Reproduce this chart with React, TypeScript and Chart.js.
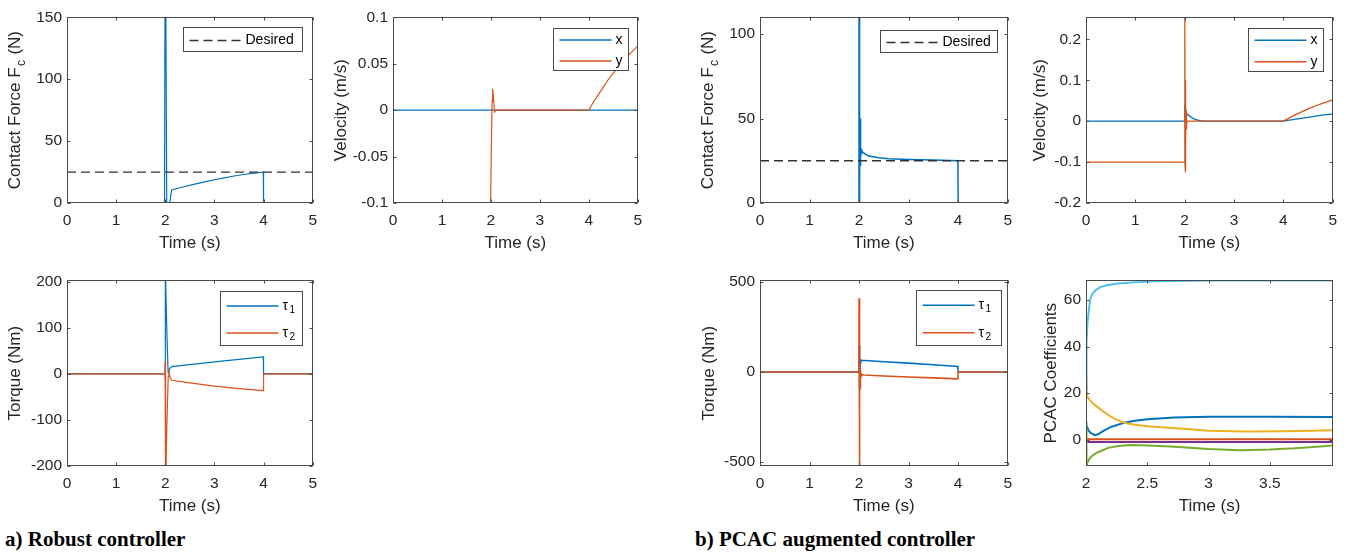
import React, { useEffect, useRef } from 'react';
import { Chart, registerables } from 'chart.js';

Chart.register(...registerables);

// ---------------- data ----------------
const timeTicks = [0, 1, 2, 3, 4, 5];
const coefTimeTicks = [2, 2.5, 3, 3.5];

// a) Robust controller — contact force
const robustForceT = [0, 1.985, 2.0, 2.03, 2.09, 2.13, 2.2, 2.4, 2.6, 2.8, 3.0, 3.2, 3.4, 3.6, 3.8, 3.995, 4.0, 5.0];
const robustForceF = [0, 0, 250, 0, 0, 10.5, 11.3, 13.3, 15.3, 17.1, 18.8, 20.3, 21.8, 23.0, 24.1, 25.0, 0, 0];
const desiredT = [0, 5];
const desiredF = [25, 25];
const robustForceTicks = [0, 50, 100, 150];

// a) Robust controller — velocity
const robustVelXT = [0, 5];
const robustVelX = [0, 0];
const robustVelYT = [0, 1.995, 2.01, 2.025, 2.035, 2.05, 2.075, 2.1, 4.0, 4.1, 4.25, 4.4, 4.56, 4.8, 5.0];
const robustVelY = [-0.1, -0.1, -0.04, 0.01, 0.023, 0.016, -0.002, 0, 0, 0.009, 0.021, 0.033, 0.044, 0.0585, 0.069];
const robustVelTicks = [-0.1, -0.05, 0, 0.05, 0.1];

// a) Robust controller — torque
const robustTau1T = [0, 1.995, 1.998, 2.005, 2.03, 2.058, 2.075, 2.1, 2.13, 2.5, 3.0, 3.5, 3.995, 4.0, 5.0];
const robustTau1 = [0, 0, -12, 230, 100, 2, 8, 13, 15.5, 20, 26, 31.5, 36.5, 0, 0];
const robustTau2T = [0, 1.992, 1.996, 2.0, 2.012, 2.03, 2.06, 2.075, 2.1, 2.13, 2.5, 3.0, 3.5, 3.995, 4.0, 5.0];
const robustTau2 = [0, 0, 27, 0, -260, -120, -5, 3, -8, -14, -19.5, -26.5, -32, -36.5, 0, 0];
const robustTorqueTicks = [-200, -100, 0, 100, 200];

// b) PCAC — contact force
const pcacForceT = [0, 1.998, 2.0, 2.003, 2.007, 2.01, 2.013, 2.017, 2.021, 2.025, 2.03, 2.035, 2.04, 2.05, 2.08, 2.15, 2.2, 2.4, 2.6, 3.0, 3.5, 3.995, 4.0, 5.0];
const pcacForceF = [0, 0, 140, 0, 95, 5, 67, 12, 50, 22, 38, 27, 32, 31, 30, 28.5, 27.8, 26.8, 26.2, 25.8, 25.5, 25.1, 0, 0];
const pcacForceTicks = [0, 50, 100];

// b) PCAC — velocity
const pcacVelXT = [0, 1.998, 2.003, 2.008, 2.015, 2.03, 2.06, 2.1, 2.15, 2.2, 2.3, 2.4, 4.0, 4.25, 4.5, 4.75, 5.0];
const pcacVelX = [0, 0, 0.04, 0.01, 0.035, 0.02, 0.016, 0.013, 0.008, 0.005, 0.0015, 0, 0, 0.005, 0.0095, 0.014, 0.018];
const pcacVelYT = [0, 1.998, 2.003, 2.007, 2.011, 2.015, 2.019, 2.023, 2.027, 2.032, 2.037, 2.045, 2.06, 4.0, 4.25, 4.5, 4.75, 5.0];
const pcacVelY = [-0.1, -0.1, 0.3, -0.11, 0.1, -0.125, 0.06, -0.06, 0.025, -0.02, 0.01, -0.005, 0, 0, 0.016, 0.03, 0.042, 0.052];
const pcacVelTicks = [-0.2, -0.1, 0, 0.1, 0.2];

// b) PCAC — torque
const pcacTau1T = [0, 1.998, 2.003, 2.008, 2.015, 2.025, 2.04, 2.05, 2.5, 3.0, 3.5, 3.995, 4.0, 5.0];
const pcacTau1 = [0, 0, 150, -100, 80, 40, 66, 65, 57, 49, 40, 31, 0, 0];
const pcacTau2T = [0, 1.998, 2.0, 2.004, 2.008, 2.012, 2.016, 2.02, 2.025, 2.03, 2.04, 2.05, 2.1, 2.5, 3.0, 3.5, 3.995, 4.0, 5.0];
const pcacTau2 = [0, 0, 410, -560, 115, -215, 60, -90, 20, -40, -10, -15, -17, -22, -28, -33, -38, 0, 0];
const pcacTorqueTicks = [-500, 0, 500];

// b) PCAC — coefficients
const coefBlueT = [2.0, 2.01, 2.02, 2.04, 2.076, 2.1, 2.15, 2.2, 2.31, 2.4, 2.5, 2.72, 3.0, 3.5, 4.015];
const coefBlue = [5, 5.4, 4, 2.8, 1.9, 2.4, 4, 5.4, 7.3, 8.1, 8.8, 9.5, 9.9, 9.9, 9.8];
const coefOrangeT = [2.0, 4.015];
const coefOrange = [0.2, 0.2];
const coefYellowT = [2.0, 2.004, 2.01, 2.03, 2.06, 2.1, 2.15, 2.2, 2.25, 2.31, 2.4, 2.5, 2.7, 2.85, 3.0, 3.3, 3.6, 3.85, 4.015];
const coefYellow = [27, 21, 18.5, 17, 15.5, 13.8, 11.8, 10, 8.6, 7.3, 6.4, 5.8, 5, 4.5, 3.9, 3.5, 3.6, 3.8, 4.1];
const coefPurpleT = [2.0, 4.015];
const coefPurple = [-1, -1];
const coefGreenT = [2.0, 2.004, 2.01, 2.03, 2.06, 2.09, 2.18, 2.25, 2.36, 2.5, 2.69, 2.85, 3.0, 3.26, 3.5, 3.7, 3.83, 4.015];
const coefGreen = [7.8, -11.5, -10, -8, -6.5, -5.6, -3.5, -2.8, -2.3, -2.5, -2.9, -3.5, -4, -4.5, -4.2, -3.7, -3.2, -2.5];
const coefCyanT = [2.0, 2.004, 2.012, 2.022, 2.035, 2.05, 2.076, 2.12, 2.17, 2.26, 2.36, 2.55, 3.0, 4.015];
const coefCyan = [20, 42, 50, 55, 60.5, 62.5, 64.2, 65.7, 66.4, 67.1, 67.5, 68.1, 68.4, 68.4];
const coefTicks = [0, 20, 40, 60];

// ---------------- styling ----------------
const BLUE = '#0072BD';
const ORANGE = '#D95319';
const YELLOW = '#EDB120';
const PURPLE = '#7E2F8E';
const GREEN = '#77AC30';
const CYAN = '#4DBEEE';
const AXIS_COLOR = '#4a4a4a';
const TEXT_COLOR = '#262626';
const SANS = "'Liberation Sans', Arial, Helvetica, sans-serif";

const PADL = 70;
const PADT = 12;
const PADR = 12;
const XAXIS_H = 52;
const TICK_LEN = 3;

type Series = { t: number[]; v: number[]; color: string; dash?: number[]; label?: string };
type LegendCfg = { w: number; h: number; right: number; top: number };
type PanelCfg = {
  area: [number, number, number, number];
  xMin: number; xMax: number; xTicks: number[];
  yMin: number; yMax: number; yTicks: number[];
  yTitle: string; yTitleOffset: number;
  series: Series[];
  lineWidth: number;
  legend?: LegendCfg;
};

function parseRich(s: string) {
  const out: { text: string; sub: boolean }[] = [];
  let buf = '';
  for (let i = 0; i < s.length; i++) {
    if (s[i] === '_' && i + 1 < s.length) {
      if (buf) out.push({ text: buf, sub: false });
      buf = '';
      out.push({ text: s[i + 1], sub: true });
      i++;
    } else buf += s[i];
  }
  if (buf) out.push({ text: buf, sub: false });
  return out;
}

function drawRich(ctx: CanvasRenderingContext2D, s: string, x: number, y: number, size: number, align: 'left' | 'center', color: string) {
  const parts = parseRich(s);
  const subSize = size * 0.72;
  ctx.textAlign = 'left';
  ctx.fillStyle = color;
  const widths = parts.map((p) => {
    ctx.font = `${p.sub ? subSize : size}px ${SANS}`;
    return ctx.measureText(p.text).width + (p.sub ? 2 : 0);
  });
  const total = widths.reduce((a, b) => a + b, 0);
  let cx = align === 'center' ? x - total / 2 : x;
  parts.forEach((p, i) => {
    ctx.font = `${p.sub ? subSize : size}px ${SANS}`;
    ctx.fillText(p.text, cx + (p.sub ? 1.5 : 0), y + (p.sub ? size * 0.3 : 0));
    cx += widths[i];
  });
}

function makeDecorPlugin(cfg: PanelCfg) {
  return {
    id: 'matlabDecor',
    afterDraw(chart: any) {
      const ctx: CanvasRenderingContext2D = chart.ctx;
      const a = chart.chartArea;
      const xs = chart.scales.x;
      const ys = chart.scales.y;
      ctx.save();
      const L = Math.round(a.left) + 0.5;
      const T = Math.round(a.top) + 0.5;
      const R = Math.round(a.right) - 0.5;
      const B = Math.round(a.bottom) - 0.5;
      ctx.strokeStyle = AXIS_COLOR;
      ctx.lineWidth = 1;
      ctx.setLineDash([]);
      ctx.strokeRect(L, T, R - L, B - T);
      ctx.beginPath();
      xs.ticks.forEach((tk: any) => {
        const px = Math.round(xs.getPixelForValue(tk.value)) + 0.5;
        ctx.moveTo(px, B);
        ctx.lineTo(px, B - TICK_LEN);
        ctx.moveTo(px, T);
        ctx.lineTo(px, T + TICK_LEN);
      });
      ys.ticks.forEach((tk: any) => {
        const py = Math.round(ys.getPixelForValue(tk.value)) + 0.5;
        ctx.moveTo(L, py);
        ctx.lineTo(L + TICK_LEN, py);
        ctx.moveTo(R, py);
        ctx.lineTo(R - TICK_LEN, py);
      });
      ctx.stroke();

      // legend
      if (cfg.legend) {
        const lg = cfg.legend;
        const entries = cfg.series.filter((s) => s.label);
        const bx = Math.round(a.right - lg.right - lg.w) + 0.5;
        const by = Math.round(a.top + lg.top) + 0.5;
        ctx.fillStyle = '#ffffff';
        ctx.fillRect(bx, by, lg.w, lg.h);
        ctx.strokeStyle = AXIS_COLOR;
        ctx.lineWidth = 1;
        ctx.strokeRect(bx, by, lg.w, lg.h);
        entries.forEach((s, i) => {
          const ry = by + (lg.h * (i + 0.5)) / entries.length + 1;
          ctx.beginPath();
          ctx.strokeStyle = s.color;
          ctx.lineWidth = 1.3;
          ctx.setLineDash(s.dash || []);
          ctx.moveTo(bx + 6, ry);
          ctx.lineTo(bx + 58, ry);
          ctx.stroke();
          ctx.setLineDash([]);
          ctx.textBaseline = 'middle';
          drawRich(ctx, s.label as string, bx + 62, ry, 14, 'left', '#000000');
        });
      }

      // axis titles
      ctx.textBaseline = 'alphabetic';
      ctx.textAlign = 'center';
      ctx.fillStyle = TEXT_COLOR;
      ctx.font = `17px ${SANS}`;
      ctx.fillText('Time (s)', (a.left + a.right) / 2, a.bottom + 45);
      ctx.translate(a.left - cfg.yTitleOffset, (a.top + a.bottom) / 2);
      ctx.rotate(-Math.PI / 2);
      drawRich(ctx, cfg.yTitle, 0, 0, 17, 'center', TEXT_COLOR);
      ctx.restore();
    },
  };
}

function zip(t: number[], v: number[]) {
  return t.map((x, i) => ({ x, y: v[i] }));
}

function Panel({ cfg }: { cfg: PanelCfg }) {
  const ref = useRef<HTMLCanvasElement>(null);
  const [l, t, r, b] = cfg.area;
  const width = r - l + PADL + PADR;
  const height = b - t + PADT + XAXIS_H;
  useEffect(() => {
    if (!ref.current) return;
    const n = cfg.series.length;
    const tickFont = { family: SANS, size: 15.5 };
    const chart = new Chart(ref.current, {
      type: 'line',
      data: {
        datasets: cfg.series.map((s, i) => ({
          data: zip(s.t, s.v),
          borderColor: s.color,
          borderWidth: cfg.lineWidth,
          borderDash: s.dash || [],
          pointRadius: 0,
          tension: 0,
          fill: false,
          clip: 0,
          order: n - i,
        })),
      },
      options: {
        responsive: false,
        animation: false,
        devicePixelRatio: 1,
        events: [],
        layout: { padding: { left: 0, top: PADT, right: PADR, bottom: 0 } },
        plugins: { legend: { display: false }, tooltip: { enabled: false }, title: { display: false } },
        scales: {
          x: {
            type: 'linear',
            min: cfg.xMin,
            max: cfg.xMax,
            afterBuildTicks: (s: any) => { s.ticks = cfg.xTicks.map((v) => ({ value: v })); },
            afterFit: (s: any) => { s.height = XAXIS_H; },
            grid: { display: false, drawTicks: false },
            border: { display: false },
            ticks: {
              autoSkip: false, maxRotation: 0, minRotation: 0, padding: 8,
              color: TEXT_COLOR, font: tickFont,
              callback: (v: any) => String(v),
            },
          },
          y: {
            type: 'linear',
            min: cfg.yMin,
            max: cfg.yMax,
            afterBuildTicks: (s: any) => { s.ticks = cfg.yTicks.map((v) => ({ value: v })); },
            afterFit: (s: any) => { s.width = PADL; },
            grid: { display: false, drawTicks: false },
            border: { display: false },
            ticks: {
              autoSkip: false, padding: 5,
              color: TEXT_COLOR, font: tickFont,
              callback: (v: any) => String(v),
            },
          },
        },
      } as any,
      plugins: [makeDecorPlugin(cfg) as any],
    });
    return () => chart.destroy();
  }, [cfg]);
  return (
    <canvas
      ref={ref}
      width={width}
      height={height}
      style={{ position: 'absolute', left: l - PADL, top: t - PADT, width, height }}
    />
  );
}

const panels: PanelCfg[] = [
  {
    area: [67, 15, 313, 203], xMin: 0, xMax: 5, xTicks: timeTicks,
    yMin: 0, yMax: 150, yTicks: robustForceTicks,
    yTitle: 'Contact Force F_c (N)', yTitleOffset: 47.5, lineWidth: 1.2,
    series: [
      { t: robustForceT, v: robustForceF, color: BLUE },
      { t: desiredT, v: desiredF, color: '#333333', dash: [9, 5], label: 'Desired' },
    ],
    legend: { w: 119, h: 24, right: 11, top: 10 },
  },
  {
    area: [393, 15, 638, 203], xMin: 0, xMax: 5, xTicks: timeTicks,
    yMin: -0.1, yMax: 0.1, yTicks: robustVelTicks,
    yTitle: 'Velocity (m/s)', yTitleOffset: 47.5, lineWidth: 1.2,
    series: [
      { t: robustVelXT, v: robustVelX, color: BLUE, label: 'x' },
      { t: robustVelYT, v: robustVelY, color: ORANGE, label: 'y' },
    ],
    legend: { w: 75, h: 42, right: 10, top: 11 },
  },
  {
    area: [67, 278, 313, 466], xMin: 0, xMax: 5, xTicks: timeTicks,
    yMin: -200, yMax: 203, yTicks: robustTorqueTicks,
    yTitle: 'Torque (Nm)', yTitleOffset: 47.5, lineWidth: 1.2,
    series: [
      { t: robustTau1T, v: robustTau1, color: BLUE, label: 'τ_1' },
      { t: robustTau2T, v: robustTau2, color: ORANGE, label: 'τ_2' },
    ],
    legend: { w: 82, h: 54, right: 11, top: 11 },
  },
  {
    area: [760, 15, 1008, 203], xMin: 0, xMax: 5, xTicks: timeTicks,
    yMin: 0, yMax: 110, yTicks: pcacForceTicks,
    yTitle: 'Contact Force F_c (N)', yTitleOffset: 47, lineWidth: 1.5,
    series: [
      { t: pcacForceT, v: pcacForceF, color: BLUE },
      { t: desiredT, v: desiredF, color: '#333333', dash: [9, 5], label: 'Desired' },
    ],
    legend: { w: 117, h: 22, right: 11, top: 13 },
  },
  {
    area: [1086, 15, 1333, 203], xMin: 0, xMax: 5, xTicks: timeTicks,
    yMin: -0.2, yMax: 0.254, yTicks: pcacVelTicks,
    yTitle: 'Velocity (m/s)', yTitleOffset: 41, lineWidth: 1.3,
    series: [
      { t: pcacVelXT, v: pcacVelX, color: BLUE, label: 'x' },
      { t: pcacVelYT, v: pcacVelY, color: ORANGE, label: 'y' },
    ],
    legend: { w: 75, h: 43, right: 10, top: 11 },
  },
  {
    area: [760, 278, 1008, 466], xMin: 0, xMax: 5, xTicks: timeTicks,
    yMin: -523, yMax: 510, yTicks: pcacTorqueTicks,
    yTitle: 'Torque (Nm)', yTitleOffset: 46, lineWidth: 1.6,
    series: [
      { t: pcacTau1T, v: pcacTau1, color: BLUE, label: 'τ_1' },
      { t: pcacTau2T, v: pcacTau2, color: ORANGE, label: 'τ_2' },
    ],
    legend: { w: 85, h: 55, right: 7, top: 10 },
  },
  {
    area: [1086, 278, 1333, 466], xMin: 2, xMax: 4.015, xTicks: coefTimeTicks,
    yMin: -11.3, yMax: 68.5, yTicks: coefTicks,
    yTitle: 'PCAC Coefficients', yTitleOffset: 30, lineWidth: 2,
    series: [
      { t: coefBlueT, v: coefBlue, color: BLUE },
      { t: coefOrangeT, v: coefOrange, color: ORANGE },
      { t: coefYellowT, v: coefYellow, color: YELLOW },
      { t: coefPurpleT, v: coefPurple, color: PURPLE },
      { t: coefGreenT, v: coefGreen, color: GREEN },
      { t: coefCyanT, v: coefCyan, color: CYAN },
    ],
  },
];

const captionStyle: React.CSSProperties = {
  position: 'absolute',
  top: 529,
  fontFamily: "'Liberation Serif', 'Times New Roman', serif",
  fontWeight: 'bold',
  fontSize: 21,
  lineHeight: '21px',
  whiteSpace: 'nowrap',
  color: '#000',
};

export default function App() {
  return (
    <div style={{ position: 'absolute', left: 0, top: 0, width: 1356, height: 557, background: '#fff', overflow: 'hidden' }}>
      {panels.map((p, i) => (
        <Panel key={i} cfg={p} />
      ))}
      <div style={{ ...captionStyle, left: 5 }}>a) Robust controller</div>
      <div style={{ ...captionStyle, left: 695 }}>b) PCAC augmented controller</div>
    </div>
  );
}
